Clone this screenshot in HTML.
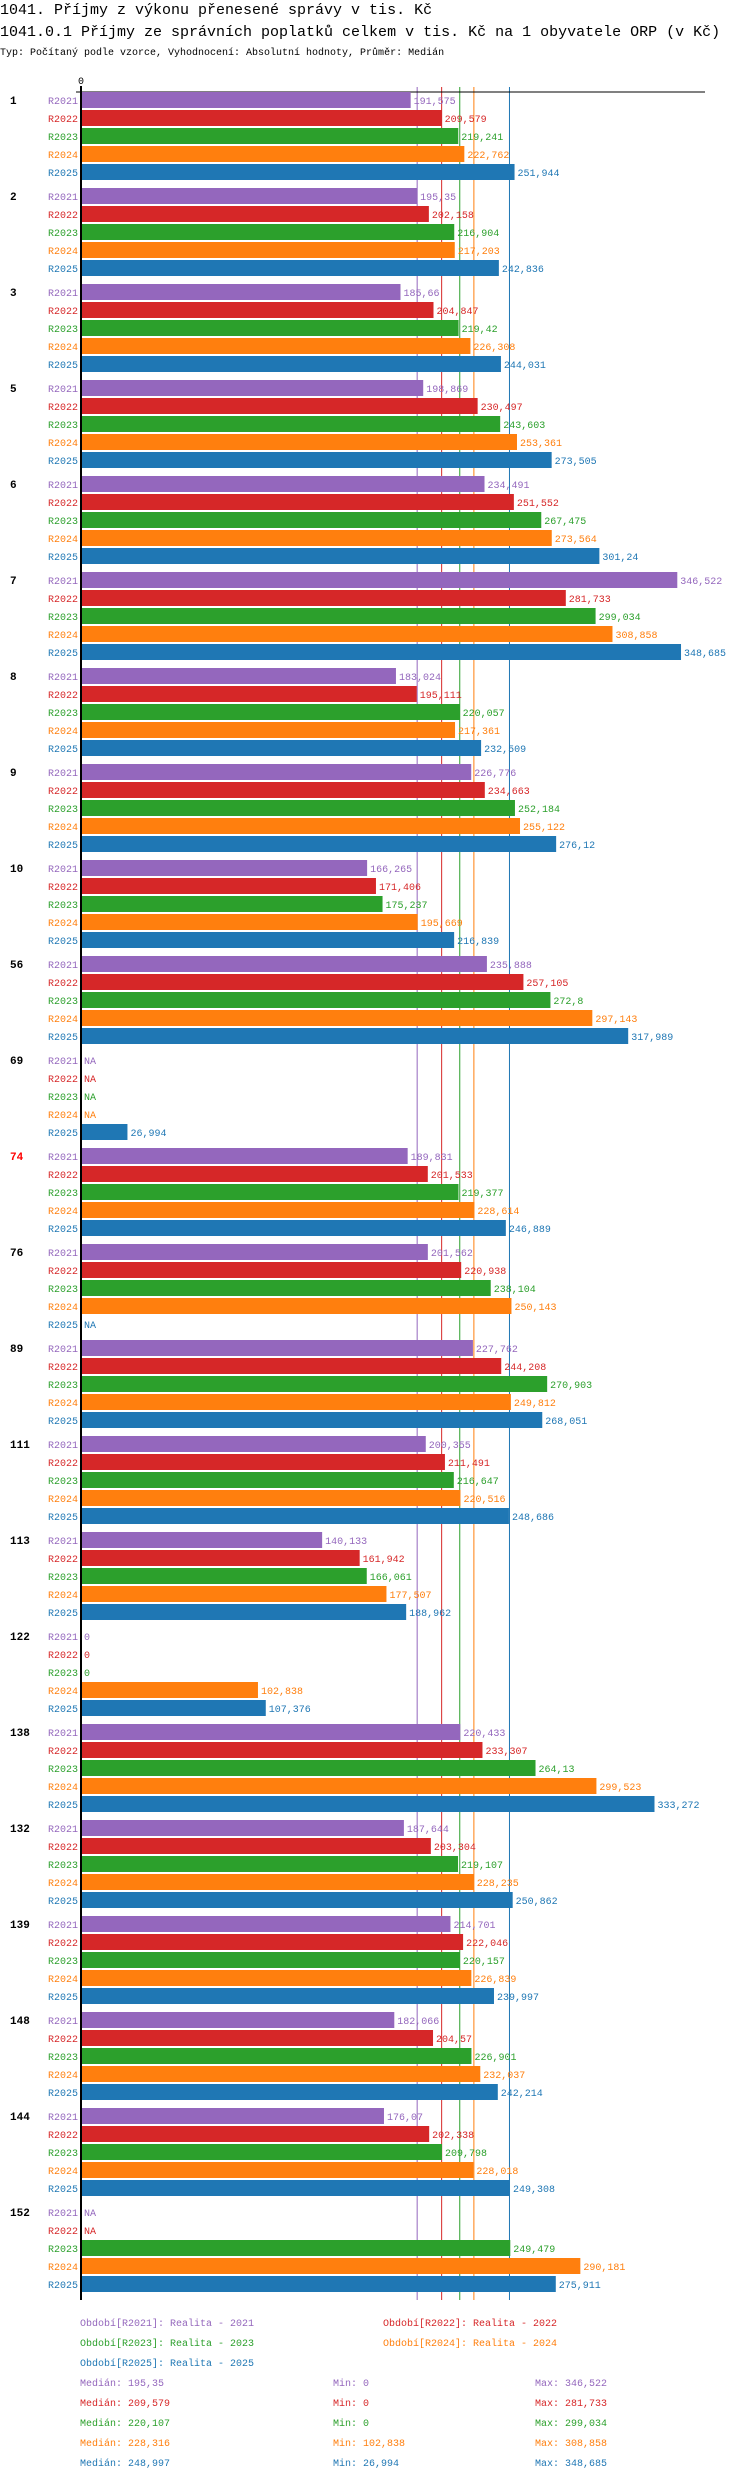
<!DOCTYPE html>
<html><head><meta charset="utf-8">
<style>
body{margin:0;background:#fff;width:750px;height:2480px;overflow:hidden;font-family:"Liberation Mono","DejaVu Sans Mono",monospace;}
svg{display:block}
</style></head>
<body>
<svg id="chart" width="750" height="2480" xmlns="http://www.w3.org/2000/svg" font-family="Liberation Mono, DejaVu Sans Mono, monospace">
<text x="0" y="14" font-size="15">1041. Příjmy z výkonu přenesené správy v tis. Kč</text>
<text x="0" y="36" font-size="15">1041.0.1 Příjmy ze správních poplatků celkem v tis. Kč na 1 obyvatele ORP (v Kč)</text>
<text x="0" y="55" font-size="10">Typ: Počítaný podle vzorce, Vyhodnocení: Absolutní hodnoty, Průměr: Medián</text>
<g id="lines"></g>
<g id="bars"></g>
<g id="legend"></g>
</svg>
<script>
const groups = ["1","2","3","5","6","7","8","9","10","56","69","74","76","89","111","113","122","138","132","139","148","144","152"];
const series = ["R2021","R2022","R2023","R2024","R2025"];
const v2021 = [191.575,195.35,185.66,198.869,234.491,346.522,183.024,226.776,166.265,235.888,null,189.831,201.562,227.762,200.355,140.133,0,220.433,187.644,214.701,182.066,176.07,null];
const v2022 = [209.579,202.158,204.847,230.497,251.552,281.733,195.111,234.663,171.406,257.105,null,201.533,220.938,244.208,211.491,161.942,0,233.307,203.304,222.046,204.57,202.338,null];
const v2023 = [219.241,216.904,219.42,243.603,267.475,299.034,220.057,252.184,175.237,272.8,null,219.377,238.104,270.903,216.647,166.061,0,264.13,219.107,220.157,226.901,209.798,249.479];
const v2024 = [222.762,217.203,226.308,253.361,273.564,308.858,217.361,255.122,195.669,297.143,null,228.614,250.143,249.812,220.516,177.507,102.838,299.523,228.235,226.839,232.037,228.018,290.181];
const v2025 = [251.944,242.836,244.031,273.505,301.24,348.685,232.509,276.12,216.839,317.989,26.994,246.889,null,268.051,248.686,188.962,107.376,333.272,250.862,239.997,242.214,249.308,275.911];
const medians = [195.35,209.579,220.107,228.316,248.997];
const mins = [0,0,0,102.838,26.994];
const maxs = [346.522,281.733,299.034,308.858,348.685];
const legendNames = ["Období[R2021]: Realita - 2021","Období[R2022]: Realita - 2022","Období[R2023]: Realita - 2023","Období[R2024]: Realita - 2024","Období[R2025]: Realita - 2025"];
const colors = ["#9467bd","#d62728","#2ca02c","#ff7f0e","#1f77b4"];
const highlight = {"74":"#ff0000"};

const values = [v2021,v2022,v2023,v2024,v2025];
const NS="http://www.w3.org/2000/svg";
const X0=81, SCALE=1.7208, TOP=92, GP=96, BP=18, BH=16;
const xs = v => X0 + v*SCALE;
const fmt = v => String(v).replace('.',',');
function mk(tag, attrs, parent, txt){const e=document.createElementNS(NS,tag);for(const k in attrs)e.setAttribute(k,attrs[k]);if(txt!==undefined)e.textContent=txt;parent.appendChild(e);return e;}
const lines=document.getElementById('lines'), bars=document.getElementById('bars'), legend=document.getElementById('legend');
const bottom = TOP + (groups.length-1)*GP + 4*BP + BH;

let t=mk('text',{x:X0,y:84,'font-size':10,'text-anchor':'middle'},bars,'0');


let ax=mk('line',{x1:X0-5,y1:TOP,x2:705,y2:TOP,stroke:'#000','stroke-width':1},bars);


let ay=mk('line',{x1:X0,y1:TOP-6,x2:X0,y2:bottom+8,stroke:'#000','stroke-width':2},bars);



medians.forEach((m,i)=>{
  const l=mk('line',{x1:xs(m),y1:TOP-5,x2:xs(m),y2:bottom+8,stroke:colors[i],'stroke-width':1},lines);
  
  
});

groups.forEach((g,gi)=>{
  const gy=TOP+gi*GP;
  const gl=mk('text',{x:10,y:gy+12,'font-size':11,'font-weight':'bold',fill:highlight[g]||'#000'},bars,g);
  
  
  series.forEach((s,si)=>{
    const y=gy+si*BP;
    const v=values[si][gi];
    const sl=mk('text',{x:X0-3,y:y+12,'font-size':10,'text-anchor':'end',fill:colors[si]},bars,s);
    
    
    if(v===null){
      const na=mk('text',{x:X0+3,y:y+12,'font-size':10,fill:colors[si]},bars,'NA');
      
      
      return;
    }
    if(v>0){
      const r=mk('rect',{x:X0+1,y:y,width:xs(v)-X0-1,height:BH,fill:colors[si]},bars);
      
      
    }
    const vl=mk('text',{x:xs(v)+3,y:y+12,'font-size':10,fill:colors[si]},bars,fmt(v));
    
    
  });
});

const legPos=[[80,2326],[383,2326],[80,2346],[383,2346],[80,2366]];
legendNames.forEach((n,i)=>{
  const e=mk('text',{x:legPos[i][0],y:legPos[i][1],'font-size':10,fill:colors[i]},legend,n);
  
  
});
medians.forEach((m,i)=>{
  const y=2386+i*20;
  const a=mk('text',{x:80,y:y,'font-size':10,fill:colors[i]},legend,'Medián: '+fmt(m));
  
  
  const b=mk('text',{x:333,y:y,'font-size':10,fill:colors[i]},legend,'Min: '+fmt(mins[i]));
  
  
  const c=mk('text',{x:535,y:y,'font-size':10,fill:colors[i]},legend,'Max: '+fmt(maxs[i]));
  
  
});
</script>
</body></html>
